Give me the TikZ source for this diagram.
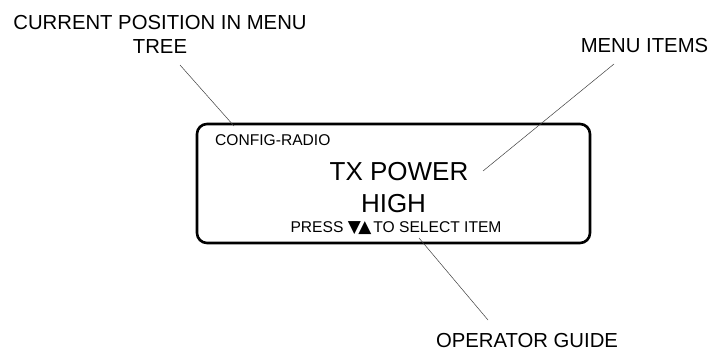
\documentclass[tikz,border=0pt]{standalone}
\usepackage{fontspec}
\setmainfont{Liberation Sans}
\newfontfamily\symfont{DejaVu Sans}
\tikzset{
  lbl/.style={anchor=base,font=\fontsize{20.3}{24}\selectfont,align=center},
  small/.style={anchor=base,font=\fontsize{15.6}{18}\selectfont},
  big/.style={anchor=base,font=\fontsize{26}{30}\selectfont},
  leader/.style={line width=0.5pt,black!75}
}
\begin{document}
\begin{tikzpicture}[x=1pt,y=-1pt]
				\useasboundingbox (0,0) rectangle (713,351);
				\coordinate (T1) at (180,65);\coordinate (T2) at (234,126);
				\coordinate (M1) at (614,64);\coordinate (M2) at (483,171);
				\coordinate (G1) at (419,238);\coordinate (G2) at (488,320);
				\draw[line width=2.6pt,rounded corners=10pt] (197,124) rectangle (590,243);
				\node[lbl] (tree) at (160,53) {CURRENT POSITION IN MENU\\TREE};
				\node[lbl] (items) at (644.5,52) {MENU ITEMS};
				\node[lbl] (guide) at (527,347) {OPERATOR GUIDE};
				\node[small,anchor=base west,inner sep=0pt] (config) at (215,145) {CONFIG-RADIO};
				\node[big] (txpower) at (399,180) {TX POWER};
				\node[big] (high) at (393.5,212) {HIGH};
				\node[small] (press) at (396,232) {PRESS {\symfont\fontsize{17}{18}\selectfont\raisebox{-0.5pt}{▼}\kern-2.5pt\raisebox{-0.5pt}{▲}}\hspace{2pt}TO SELECT ITEM};
				\foreach\a/\b in {T1/T2,M1/M2,G1/G2}\draw[leader] (\a)--(\b);
			\end{tikzpicture}
\end{document}
